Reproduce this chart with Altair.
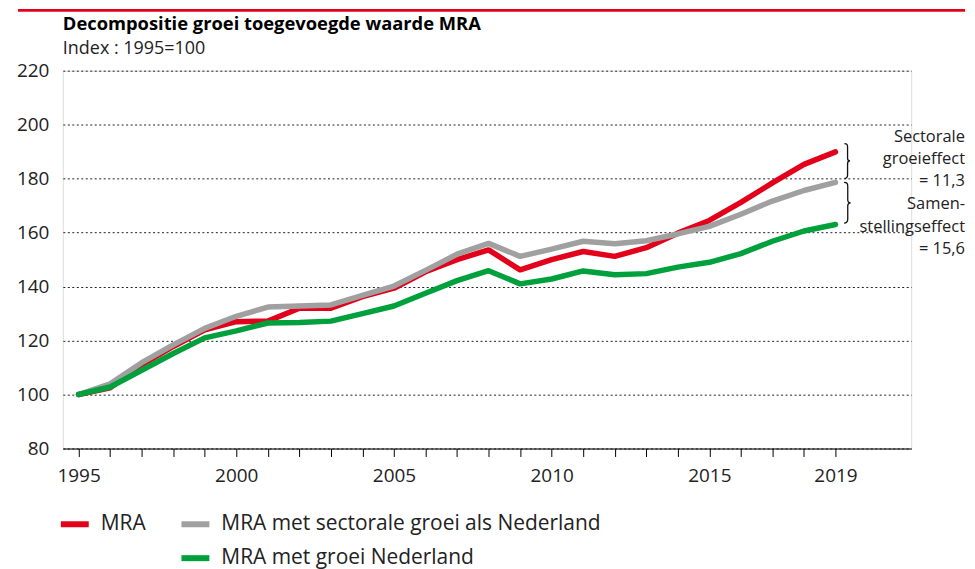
import altair as alt
import pandas as pd

years = list(range(1995, 2020))
mra = [100, 102.5, 111, 117.8, 124, 127, 127.2, 132, 132, 136.3, 139.4, 145.5, 150, 153.6, 146.2,
       150, 153, 151.2, 154.4, 159.8, 164.5, 171.2, 178.4, 185.3, 189.9]
mra_sector = [100, 104, 111.8, 118.4, 124.5, 129, 132.4, 132.8, 133.2, 136.7, 140.2, 146, 152, 156, 151.2,
              153.9, 156.8, 155.9, 157, 159.5, 162.3, 166.8, 171.7, 175.6, 178.6]
mra_nl = [100, 102.8, 109, 115.2, 121, 123.6, 126.5, 126.7, 127.2, 130, 132.8, 137.5, 142.2, 145.9, 141,
          142.8, 145.8, 144.4, 144.8, 147.2, 149, 152.2, 156.8, 160.6, 163]

names = ["MRA", "MRA met sectorale groei als Nederland", "MRA met groei Nederland"]
colors = ["#e2001a", "#a0a0a0", "#00a03c"]
label_years = [1995, 2000, 2005, 2010, 2015, 2019]
y_ticks = [80, 100, 120, 140, 160, 180, 200, 220]

title_text = "Decompositie groei toegevoegde waarde MRA"
subtitle_text = "Index : 1995=100"
ann_lines = [["Sectorale", "groeieffect", "= 11,3"], ["Samen-", "stellingseffect", "= 15,6"]]

FONT = "Open Sans"
W, H = 851, 379
YMIN, YMAX = 80, 220
px_per_unit = H / (YMAX - YMIN)

df = pd.DataFrame({
    "jaar": years * 3,
    "waarde": mra + mra_sector + mra_nl,
    "reeks": [names[0]] * 25 + [names[1]] * 25 + [names[2]] * 25,
})

xs = alt.X("jaar:Q", scale=alt.Scale(domain=[1994.5, 2021.4], nice=False, zero=False),
           axis=alt.Axis(values=years, format="d", title=None, grid=False, labelOverlap=False,
                         labelExpr="indexof(%s, datum.value) >= 0 ? datum.label : ''" % str(label_years),
                         tickSize=8, tickColor="#000", domainColor="#000", labelFontSize=19,
                         labelFont=FONT, labelColor="#222", labelPadding=10, labelFlush=False))
ys = alt.Y("waarde:Q", scale=alt.Scale(domain=[YMIN, YMAX], nice=False, zero=False),
           axis=alt.Axis(values=y_ticks, title=None, domain=False, ticks=False, grid=True,
                         labelOverlap=False,
                         gridDash=[2, 2.5], gridColor="#222", gridWidth=1, labelFontSize=19,
                         labelFont=FONT, labelColor="#222", labelPadding=14))

legend_common = dict(orient="none", title=None, symbolType="stroke", symbolStrokeWidth=6,
                     symbolSize=784, labelFontSize=21, labelFont=FONT, labelColor="#222",
                     labelOffset=9, rowPadding=5, legendY=438, labelLimit=600)

line_props = dict(strokeWidth=5.5, strokeCap="round", strokeJoin="round")

red = alt.Chart(df[df.reeks == names[0]]).mark_line(**line_props).encode(
    x=xs, y=ys,
    color=alt.Color("reeks:N", scale=alt.Scale(domain=[names[0]], range=[colors[0]]),
                    legend=alt.Legend(legendX=-5, **legend_common)))

color2 = alt.Color("reeks:N", scale=alt.Scale(domain=names[1:], range=colors[1:]),
                   legend=alt.Legend(legendX=116, direction="vertical", **legend_common))
gray = alt.Chart(df[df.reeks == names[1]]).mark_line(**line_props).encode(x=xs, y=ys, color=color2)
green = alt.Chart(df[df.reeks == names[2]]).mark_line(**line_props).encode(x=xs, y=ys, color=color2)
inner = alt.layer(gray, green)

# braces
brace_path = ("M -0.12 -1 C 0.02 -1 0.06 -0.95 0.06 -0.8 L 0.06 -0.15 C 0.06 -0.05 0.1 0 0.2 0 "
              "C 0.1 0 0.06 0.05 0.06 0.15 L 0.06 0.8 C 0.06 0.95 0.02 1 -0.12 1")
b_top = [193.0, 178.6]
b_bot = [180.1, 163.5]
brace_df = pd.DataFrame({
    "jaar": [2019.35, 2019.35],
    "waarde": [(a + b) / 2 for a, b in zip(b_top, b_bot)],
    "size": [((a - b) * px_per_unit) ** 2 for a, b in zip(b_top, b_bot)],
})
braces = alt.Chart(brace_df).mark_point(shape=brace_path, filled=False, stroke="#111",
                                        strokeWidth=1.3, opacity=1).encode(
    x=xs, y=ys, size=alt.Size("size:Q", scale=None))

ann_df = pd.DataFrame({"waarde": [195.6, 170.5], "tekst": ann_lines})
ann = alt.Chart(ann_df).mark_text(align="right", baseline="middle", fontSize=16.5, font=FONT,
                                  color="#222", lineHeight=22.5).encode(
    x=alt.value(905), y=ys, text="tekst")

title = alt.Chart(pd.DataFrame({"t": [title_text]})).mark_text(
    align="left", baseline="alphabetic", fontSize=18.4, fontWeight="bold", font=FONT, color="#000").encode(
    x=alt.value(0), y=alt.value(-40.5), text="t:N")
subtitle = alt.Chart(pd.DataFrame({"t": [subtitle_text]})).mark_text(
    align="left", baseline="alphabetic", fontSize=18, font=FONT, color="#222").encode(
    x=alt.value(0), y=alt.value(-17), text="t:N")

topbar = alt.Chart(pd.DataFrame({"a": [0]})).mark_rule(color="#e2001a", strokeWidth=3).encode(
    x=alt.value(-45), x2=alt.value(905), y=alt.value(-60.5))

chart = alt.layer(topbar, title, subtitle, red, inner, braces, ann).resolve_scale(
    color="independent").properties(
    width=W, height=H,
    padding={"left": 8, "top": 0, "right": 0, "bottom": 0},
).configure_view(stroke=None).configure(font=FONT)

chart.save("out.html", embed_options={"renderer": "svg", "actions": False})
